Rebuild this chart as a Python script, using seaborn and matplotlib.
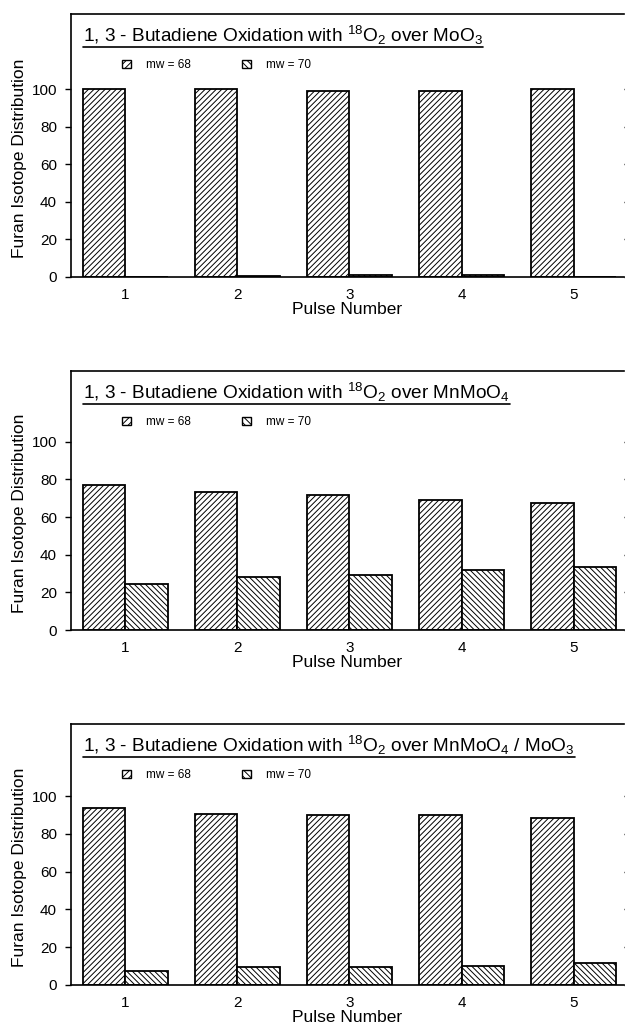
import numpy as np
import pandas as pd
import seaborn as sns
import matplotlib.pyplot as plt
from matplotlib.patches import Patch
from matplotlib.lines import Line2D

# furan isotope distribution per pulse
pulses = ['1', '2', '3', '4', '5']
moo3_68 = [100, 100, 99.2, 99.0, 100]
moo3_70 = [0, 0.3, 0.8, 1.0, 0]
mnmoo4_68 = [77.2, 73.5, 71.9, 68.9, 67.6]
mnmoo4_70 = [24.4, 27.9, 29.1, 31.8, 33.2]
mix_68 = [93.4, 90.7, 90.2, 90.0, 88.1]
mix_70 = [7.2, 9.7, 9.7, 10.2, 11.8]

titles = [
    r'1, 3 - Butadiene Oxidation with $^{18}$O$_2$ over MoO$_3$',
    r'1, 3 - Butadiene Oxidation with $^{18}$O$_2$ over MnMoO$_4$',
    r'1, 3 - Butadiene Oxidation with $^{18}$O$_2$ over MnMoO$_4$ / MoO$_3$',
]
series = [(moo3_68, moo3_70), (mnmoo4_68, mnmoo4_70), (mix_68, mix_70)]
mw_labels = ['mw = 68', 'mw = 70']
hatches = ['//////', '\\\\\\\\\\\\']
legend_hatches = ['/////', '\\\\\\\\\\']

sns.set_style('ticks', {'axes.edgecolor': 'black', 'text.color': 'black',
                        'axes.labelcolor': 'black', 'xtick.color': 'black',
                        'ytick.color': 'black'})
plt.rcParams['font.family'] = ['Liberation Sans', 'DejaVu Sans']
plt.rcParams['mathtext.fontset'] = 'custom'
plt.rcParams['mathtext.rm'] = 'Liberation Sans'
plt.rcParams['mathtext.it'] = 'Liberation Sans:italic'
plt.rcParams['mathtext.bf'] = 'Liberation Sans:bold'
plt.rcParams['hatch.linewidth'] = 0.7

W, H = 625, 1029
fig = plt.figure(figsize=(W / 100, H / 100), dpi=100)

# pixel layout of each panel: (top, y of 100, y of 0)
layout = [(14, 89.3, 277), (371, 441.7, 630), (724, 796, 985)]
left_px, right_px = 71, 624

for (top, y100, y0), title, (v68, v70) in zip(layout, titles, series):
    ax = fig.add_axes([left_px / W, 1 - y0 / H, (right_px - left_px) / W, (y0 - top) / H])
    df = pd.DataFrame({
        'pulse': pulses * 2,
        'mw': [mw_labels[0]] * 5 + [mw_labels[1]] * 5,
        'value': list(v68) + list(v70),
    })
    sns.barplot(data=df, x='pulse', y='value', hue='mw', palette=['white', 'white'],
                saturation=1, edgecolor='black', linewidth=1.3, width=0.76,
                legend=False, ax=ax)
    for cont, h in zip(ax.containers, hatches):
        for p in cont:
            p.set_hatch(h)

    ytop = (y0 - top) / (y0 - y100) * 100
    ax.set_ylim(0, ytop)
    ax.set_xlim(-0.485, 4.45)
    ax.set_yticks([0, 20, 40, 60, 80, 100])
    ax.tick_params(axis='y', direction='out', length=4, width=1, labelsize=11, pad=6,
                   right=True)
    ax.tick_params(axis='x', length=0, labelsize=11, pad=8)
    for s in ['left', 'bottom', 'top']:
        ax.spines[s].set_linewidth(1.2)
    ax.spines['right'].set_visible(False)
    ax.set_xlabel('Pulse Number', fontsize=12.5)
    ax.set_ylabel('Furan Isotope Distribution', fontsize=12.5)
    ax.xaxis.set_label_coords(0.5, -0.095)
    ax.yaxis.set_label_coords(-0.08, 0.45)

    hpx = y0 - top
    t = ax.text(12 / 553, 1 - 21 / hpx, title, transform=ax.transAxes,
                fontsize=13.7, va='center', ha='left')
    fig.canvas.draw()
    bb = t.get_window_extent().transformed(ax.transAxes.inverted())
    ax.add_line(Line2D([bb.x0, bb.x1], [1 - 33 / hpx] * 2, transform=ax.transAxes,
                       color='black', lw=1.2))

    handles = [Patch(facecolor='white', edgecolor='black', hatch=h, label=l)
               for h, l in zip(legend_hatches, mw_labels)]
    ax.legend(handles=handles, loc='center left', bbox_to_anchor=(51 / 553, 1 - 51 / hpx),
              ncol=2, frameon=False, fontsize=8.5, handlelength=0.75, handleheight=0.75,
              handletextpad=1.3, columnspacing=4.3, borderpad=0, borderaxespad=0)

fig.savefig('out.png', dpi=100)
